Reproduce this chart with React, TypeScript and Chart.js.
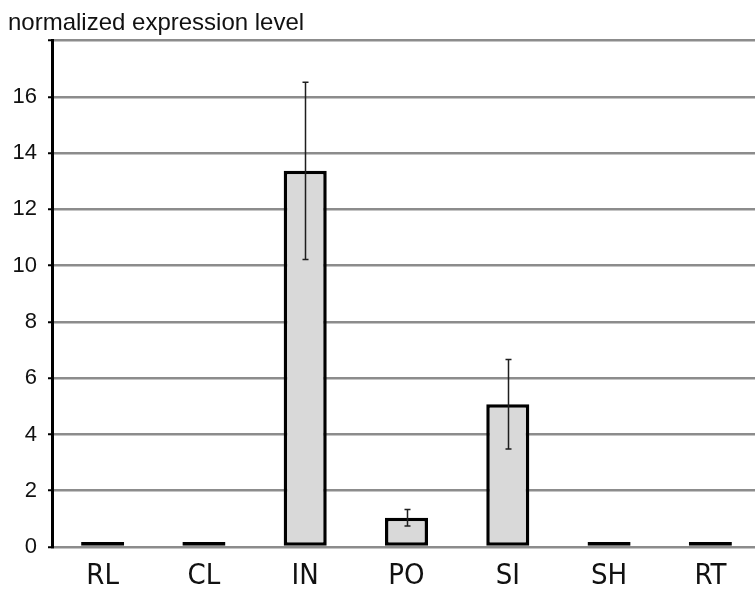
import React, { useEffect, useRef } from "react";
import { Chart, registerables } from "chart.js";

Chart.register(...registerables);

// Tissues on the category axis
const tissues = ["RL", "CL", "IN", "PO", "SI", "SH", "RT"];
// Mean normalized expression per tissue
const expression = [0.05, 0.05, 13.37, 1.04, 5.07, 0.05, 0.09];
// Error (±) per tissue; 0 means no error bar is drawn
const errors = [0, 0, 3.15, 0.29, 1.59, 0, 0];
// Y-axis range and step
const yMax = 18;
const yStep = 2;
const yLabelMax = 16;
const heading = "normalized expression level";

const errorBarPlugin = {
  id: "errorBars",
  afterDatasetsDraw(chart: any) {
    const { ctx } = chart;
    const yScale = chart.scales.y;
    const meta = chart.getDatasetMeta(0);
    ctx.save();
    ctx.strokeStyle = "#1e1e1e";
    ctx.lineWidth = 1.5;
    meta.data.forEach((bar: any, i: number) => {
      const err = errors[i];
      if (!err) return;
      const v = expression[i];
      const x = Math.round(bar.x) + 0.5;
      const yTop = yScale.getPixelForValue(v + err);
      const yBot = yScale.getPixelForValue(v - err);
      ctx.beginPath();
      ctx.moveTo(x, yTop);
      ctx.lineTo(x, yBot);
      ctx.moveTo(x - 3, yTop);
      ctx.lineTo(x + 3, yTop);
      ctx.moveTo(x - 3, yBot);
      ctx.lineTo(x + 3, yBot);
      ctx.stroke();
    });
    ctx.restore();
  },
};

const headingPlugin = {
  id: "heading",
  afterDraw(chart: any) {
    const { ctx } = chart;
    ctx.save();
    ctx.fillStyle = "#111";
    ctx.font = "24px 'Liberation Sans', Arial, sans-serif";
    ctx.textAlign = "left";
    ctx.textBaseline = "alphabetic";
    ctx.fillText(heading, 8, 30);
    ctx.restore();
  },
};

export default function App() {
  const canvasRef = useRef<HTMLCanvasElement | null>(null);

  useEffect(() => {
    const canvas = canvasRef.current;
    if (!canvas) return;
    const chart = new Chart(canvas, {
      type: "bar",
      data: {
        labels: tissues,
        datasets: [
          {
            data: expression,
            backgroundColor: "#d9d9d9",
            borderColor: "#000",
            borderWidth: 3.5,
            borderSkipped: false,
            barPercentage: 0.425,
            categoryPercentage: 1,
            minBarLength: 5,
          },
        ],
      },
      options: {
        responsive: false,
        animation: false,
        devicePixelRatio: 1,
        layout: { padding: { left: 8, top: 40.5, right: 1, bottom: 0 } },
        plugins: {
          legend: { display: false },
          tooltip: { enabled: false },
          title: { display: false },
        },
        scales: {
          x: {
            grid: { display: false, drawTicks: false },
            border: { display: false },
            ticks: {
              color: "#111",
              padding: 12,
              font: {
                family: "'Liberation Sans Narrow', 'DejaVu Sans Condensed', sans-serif",
                size: 29,
              },
            },
            afterFit(scale: any) {
              scale.height = 46;
            },
          },
          y: {
            min: 0,
            max: yMax,
            ticks: {
              stepSize: yStep,
              color: "#111",
              padding: 11,
              font: { family: "'Liberation Sans', Arial, sans-serif", size: 22 },
              callback: (v: any) => (Number(v) <= yLabelMax ? String(v) : ""),
            },
            grid: {
              color: "#8c8c8c",
              lineWidth: 2.5,
              tickColor: "#000",
              tickLength: 4,
              tickWidth: 2,
            },
            border: { display: true, color: "#000", width: 3 },
            afterFit(scale: any) {
              scale.width = 44;
            },
          },
        },
      },
      plugins: [errorBarPlugin, headingPlugin],
    });
    return () => chart.destroy();
  }, []);

  return (
    <div
      style={{
        position: "fixed",
        left: 0,
        top: 0,
        width: 755,
        height: 593,
        overflow: "hidden",
        background: "#fff",
      }}
    >
      <canvas ref={canvasRef} width={762} height={593} style={{ display: "block" }} />
    </div>
  );
}
